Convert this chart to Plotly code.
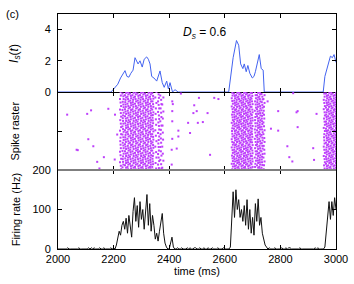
import plotly.graph_objects as go

# ---------------- data ----------------
# Synaptic current I_s(t)
is_time = [2000, 2190, 2196, 2205, 2215, 2225, 2233, 2241, 2248, 2255, 2262, 2270, 2277,
           2283, 2288, 2295, 2303, 2310, 2319, 2325, 2331, 2337, 2345, 2355, 2362, 2367,
           2375, 2382, 2391, 2397, 2403, 2412, 2421, 2432, 2614, 2620, 2630, 2642, 2650,
           2657, 2665, 2670, 2677, 2683, 2690, 2699, 2705, 2710, 2716, 2724, 2731, 2738,
           2742, 2954, 2960, 2970, 2980, 2987, 2993, 3000]
is_value = [0, 0, 0.1, 0.3, 0.5, 0.9, 1.1, 1.37, 1.0, 0.95, 1.2, 1.4, 2.2,
            2.0, 1.8, 2.0, 1.6, 2.1, 2.25, 2.1, 1.8, 1.0, 0.9, 0.7, 1.1, 1.35,
            0.6, 0.3, 0.7, 0.2, 0.6, 0, 0.15, 0, 0, 0.8, 2.2, 3.3, 3.0,
            1.8, 1.5, 1.8, 1.3, 1.7, 1.2, 0.9, 1.0, 1.3, 1.8, 2.4, 1.5, 1.4,
            0, 0, 1.0, 1.7, 2.3, 2.2, 2.4, 1.9]

# Population firing rate (Hz), sampled every 5 ms from 2000 to 3000 ms
rate_start = 2000
rate_step = 5
rate_value = (
    [0, 0, 0, 0, 0, 0, 0, 3, 0, 0, 0, 0, 0, 0, 0, 3, 0, 0, 0, 0,
     0, 0, 3, 0, 3, 0, 3, 0, 0, 0, 3, 0, 0, 3, 0, 0, 0, 0, 3, 0]
    + [3, 0, 10, 30, 45, 35, 60, 70, 50, 78, 40, 85, 55, 30, 95, 130, 70, 110, 55, 120,
       75, 100, 50, 110, 138, 60, 115, 45, 85, 60, 25, 40, 20, 45, 70, 90, 40, 15, 5, 0,
       0, 15, 30, 5]
    + [0, 0, 3, 0, 0, 3, 0, 0, 0, 3, 0, 3, 0, 0, 3, 3, 0, 0, 3, 0,
       0, 3, 0, 0, 3, 0, 0, 3, 0, 0, 0, 3, 0, 0, 0, 3, 0, 0, 0]
    + [0, 5, 100, 145, 80, 150, 100, 125, 80, 100, 70, 110, 60, 125, 50, 100, 40, 80, 35, 115,
       70, 127, 60, 80, 40, 20, 10, 5, 0]
    + [3, 0, 0, 0, 3, 0, 0, 0, 0, 3, 0, 0, 3, 0, 3, 3, 0, 0, 0, 0,
       0, 0, 3, 0, 0, 0, 0, 0, 0, 0, 0, 0, 0, 3, 0, 3, 0, 0, 0]
    + [0, 5, 40, 90, 120, 75, 120, 85, 130, 100]
)
rate_time = [rate_start + rate_step * i for i in range(len(rate_value))]

# Raster: population-burst stripes (time of stripe in ms, neuron spacing within stripe)
stripe_time = [2225, 2234, 2243, 2252, 2261, 2270, 2279, 2288, 2297, 2306, 2315, 2324,
               2333, 2341, 2352, 2362, 2370, 2377,
               2627, 2635, 2643, 2651, 2659, 2667, 2675, 2683, 2691, 2698,
               2710, 2718, 2726, 2734, 2741,
               2958, 2966, 2974, 2982, 2990, 2998]
stripe_step = [9, 7, 6, 6, 6, 6, 6, 6, 6, 6, 6, 6,
               6, 7, 14, 9, 11, 18,
               7, 6, 6, 6, 6, 6, 6, 6, 6, 7,
               8, 6, 6, 7, 10,
               8, 6, 6, 6, 6, 6]
stripe_wave = [0, 2, -1, 2, 1, -2, 1, 0, -2, 1, 2, -1, 0, 2, -2]  # ms jitter pattern
n_neurons = 200

# Isolated (asynchronous) spikes: (time ms, neuron index)
lone_time = [2033, 2105, 2119, 2181, 2109, 2127, 2067, 2071, 2165, 2141, 2149,
             2205, 2213, 2204,
             2411, 2413, 2507, 2490, 2499, 2487, 2538, 2562, 2577, 2468, 2503, 2521,
             2411, 2411, 2433, 2475, 2433, 2411, 2427, 2409, 2547, 2409, 2442,
             2754, 2792, 2862, 2766, 2792, 2862, 2825, 2832, 2843, 2846,
             2930, 2918, 2921, 2858]
lone_neuron = [58, 56, 47, 43, 121, 139, 148, 149, 167, 179, 196,
               58, 109, 173,
               24, 31, 15, 34, 49, 54, 54, 15, 18, 79, 79, 77,
               49, 75, 99, 105, 114, 120, 145, 148, 161, 186, 4,
               24, 49, 49, 94, 99, 90, 139, 167, 178, 3,
               56, 144, 174, 52]

x_ticks = [2000, 2200, 2400, 2600, 2800, 3000]

# ---------------- build raster points ----------------
rx, ry = [], []
for k, (t0, st) in enumerate(zip(stripe_time, stripe_step)):
    off = (k * 4) % st
    for j, n in enumerate(range(off, n_neurons + 1, st)):
        rx.append(t0 + stripe_wave[(j * 4 + k * 5) % len(stripe_wave)])
        ry.append(n)
rx += lone_time
ry += lone_neuron

# ---------------- figure ----------------
BLUE = "#4363f0"
PURPLE = "#bd3ffb"
FONT = "Liberation Sans, Arial, sans-serif"

fig = go.Figure()
fig.add_trace(go.Scatter(x=is_time, y=is_value, mode="lines",
                         line=dict(color=BLUE, width=1), xaxis="x", yaxis="y",
                         showlegend=False))
fig.add_trace(go.Scatter(x=rx, y=ry, mode="markers",
                         marker=dict(color=PURPLE, size=2, symbol="square",
                                     line=dict(width=0)),
                         xaxis="x2", yaxis="y2", showlegend=False))
fig.add_trace(go.Scatter(x=rate_time, y=rate_value, mode="lines",
                         line=dict(color="#111111", width=1), xaxis="x3", yaxis="y3",
                         showlegend=False))

d_top = [0.668, 1.0]
d_mid = [0.336, 0.668]
d_bot = [0.0, 0.336]

common_x = dict(range=[2000, 3000], tickvals=x_ticks, ticks="inside", ticklen=4,
                tickcolor="black", showgrid=False, zeroline=False, automargin=False)
common_y = dict(ticks="inside", ticklen=4, tickcolor="black", showgrid=False,
                zeroline=False, showline=True, linecolor="black", linewidth=1,
                mirror="ticks", automargin=False, ticklabelstandoff=4)

fig.update_layout(
    width=354, height=284,
    margin=dict(l=58, r=18, t=14, b=35),
    paper_bgcolor="white", plot_bgcolor="white",
    font=dict(family=FONT, size=11, color="black"),
    xaxis=dict(**common_x, anchor="y", domain=[0, 1], showticklabels=False,
               showline=True, linecolor="black", linewidth=1, mirror="ticks"),
    yaxis=dict(**common_y, domain=d_top, range=[0, 5], tickvals=[0, 2, 4],
               anchor="x"),
    xaxis2=dict(**common_x, anchor="y2", domain=[0, 1], showticklabels=False,
                showline=False, mirror="ticks", matches="x"),
    yaxis2=dict(**common_y, domain=d_mid, range=[200, 0], tickvals=[0, 100, 200],
                ticktext=["", "", "200"], anchor="x2"),
    xaxis3=dict(**common_x, anchor="y3", domain=[0, 1], showticklabels=True,
                showline=True, linecolor="black", linewidth=1, mirror="ticks",
                matches="x",
                title=dict(text="time (ms)", standoff=3, font=dict(size=11))),
    yaxis3=dict(**common_y, domain=d_bot, range=[0, 200], tickvals=[0, 100],
                anchor="x3"),
)

# gray separator between raster and firing-rate panels
fig.add_shape(type="line", xref="paper", yref="paper", x0=0, x1=1,
              y0=d_mid[0], y1=d_mid[0], line=dict(color="#7f7f7f", width=2),
              layer="above")

ann = [
    dict(text="(c)", x=-0.165, y=1.0, xanchor="center", yanchor="middle", showarrow=False,
         font=dict(size=11)),
    dict(text="<i>D</i><sub><i>s</i></sub> = 0.6", x=0.53, y=0.92, xanchor="center",
         yanchor="middle", showarrow=False, font=dict(size=12)),
    dict(text="<i>I</i><sub><i>s</i></sub>(<i>t</i>)", x=-0.155, y=0.834, textangle=-90,
         xanchor="center", yanchor="middle", showarrow=False, font=dict(size=12)),
    dict(text="Spike raster", x=-0.158, y=0.50, textangle=-90,
         xanchor="center", yanchor="middle", showarrow=False, font=dict(size=11)),
    dict(text="Firing rate (Hz)", x=-0.150, y=0.166, textangle=-90,
         xanchor="center", yanchor="middle", showarrow=False, font=dict(size=11)),
]
for a in ann:
    a.update(xref="paper", yref="paper")
fig.update_layout(annotations=ann)

fig.write_html("out.html", config={"displayModeBar": False},
               post_script="document.body.style.margin='0';document.body.style.overflow='hidden';")
